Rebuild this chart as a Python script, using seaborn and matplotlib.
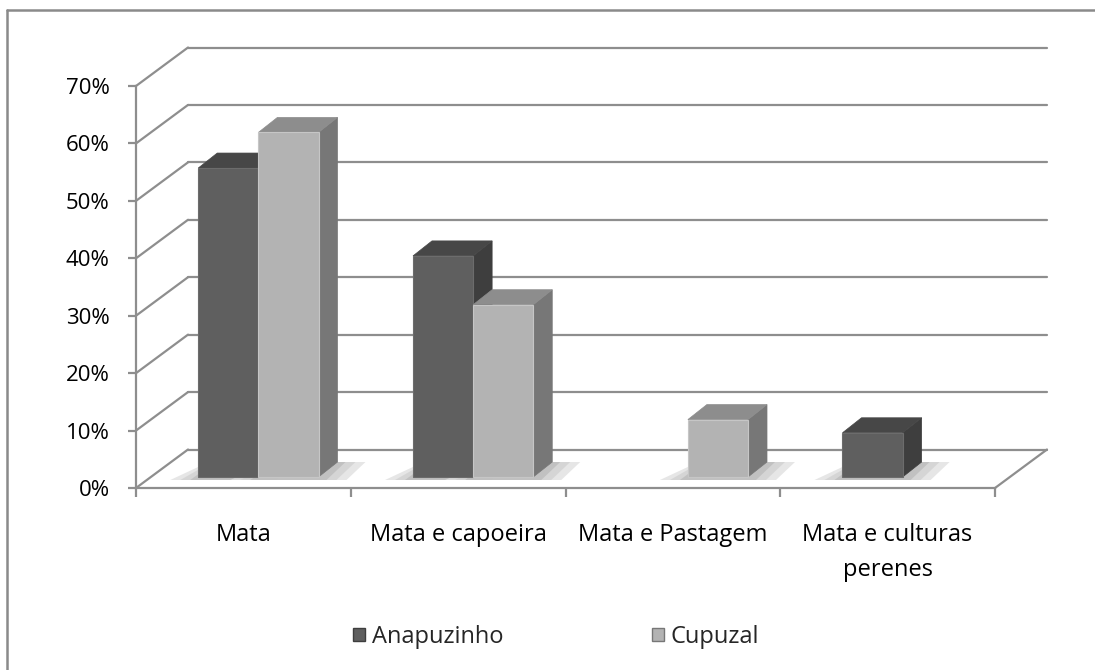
import numpy as np
import pandas as pd
import matplotlib
matplotlib.use('Agg')
import matplotlib.pyplot as plt
from matplotlib.patches import Polygon, Patch
from matplotlib.lines import Line2D
import seaborn as sns

# dados (percentual de propriedades)
categorias = ['Mata', 'Mata e capoeira', 'Mata e Pastagem', 'Mata e culturas\nperenes']
anapuzinho = [53.8, 38.5, 0.0, 7.7]
cupuzal = [60.0, 30.0, 10.0, 0.0]
series = ['Anapuzinho', 'Cupuzal']
yticks = [0, 10, 20, 30, 40, 50, 60, 70]

df = pd.DataFrame({
    'categoria': categorias * 2,
    'serie': [series[0]] * len(categorias) + [series[1]] * len(categorias),
    'valor': anapuzinho + cupuzal,
})

# cores: frente, topo, lateral, contorno
cores = {
    'Anapuzinho': ('#5f5f5f', '#474747', '#3e3e3e', '#6c6c6c'),
    'Cupuzal': ('#b3b3b3', '#8d8d8d', '#777777', '#c6c6c6'),
}
grid_cor = '#8e8e8e'

# deslocamentos da perspectiva (pixels)
WALL = (52, 38.5)   # parede do fundo
BAR = (15, 11)      # face frontal das barras
DEPTH = (19, 15)    # profundidade das barras

sns.set_style('white')
plt.rcParams['font.family'] = ['Open Sans', 'DejaVu Sans']

fig = plt.figure(figsize=(10.95, 6.7), dpi=100)
ax = fig.add_axes([136 / 1095, 182 / 670, 859 / 1095, 402 / 670])

sns.barplot(data=df, x='categoria', y='valor', hue='serie',
            palette=[cores[s][0] for s in series], saturation=1,
            width=0.56, legend=False, ax=ax, zorder=5)

ax.set_xlim(-0.5, len(categorias) - 0.5)
ax.set_ylim(0, 70)


def off(x, y, dx, dy):
    px, py = ax.transData.transform((x, y))
    return ax.transData.inverted().transform((px + dx, py + dy))


# parede do fundo e lateral esquerda
x0, x1 = ax.get_xlim()
for v in yticks:
    a = off(x0, v, *WALL)
    b = off(x1, v, *WALL)
    ax.plot([a[0], b[0]], [a[1], b[1]], color=grid_cor, lw=1.6, clip_on=False, zorder=1)
    ax.plot([x0, a[0]], [v, a[1]], color=grid_cor, lw=1.6, clip_on=False, zorder=1)
c = off(x1, 0, *WALL)
ax.plot([x1, c[0]], [0, c[1]], color=grid_cor, lw=1.6, clip_on=False, zorder=1)

# barras 3D
bars = sorted(ax.patches, key=lambda p: p.get_x())
z = 5
for p in bars:
    h = p.get_height()
    if h <= 0:
        p.set_visible(False)
        continue
    fc = matplotlib.colors.to_hex(p.get_facecolor())
    s = 'Anapuzinho' if fc == cores['Anapuzinho'][0] else 'Cupuzal'
    front, top, side, edge = cores[s]
    xa, w = p.get_x(), p.get_width()
    xb = xa + w
    bdx, bdy = BAR
    fdx, fdy = BAR[0] + DEPTH[0], BAR[1] + DEPTH[1]
    # sombra no piso (camadas para suavizar)
    for grow, cor, alpha in [(28, '#e0e0e0', 0.8), (18, '#cfcfcf', 0.7), (8, '#b9b9b9', 0.7)]:
        sh = [off(xa, 0, bdx - grow, bdy - 3), off(xb, 0, bdx + grow, bdy - 3),
              off(xb, 0, fdx + grow, fdy), off(xa, 0, fdx - grow * 0.3, fdy)]
        ax.add_patch(Polygon(sh, closed=True, facecolor=cor, edgecolor='none',
                             alpha=alpha, zorder=2, clip_on=False))
    lado = [off(xb, 0, bdx, bdy), off(xb, h, bdx, bdy),
            off(xb, h, fdx, fdy), off(xb, 0, fdx, fdy)]
    topo = [off(xa, h, bdx, bdy), off(xb, h, bdx, bdy),
            off(xb, h, fdx, fdy), off(xa, h, fdx, fdy)]
    ax.add_patch(Polygon(lado, closed=True, facecolor=side, edgecolor=side,
                         lw=0.5, zorder=z, clip_on=False))
    ax.add_patch(Polygon(topo, closed=True, facecolor=top, edgecolor=top,
                         lw=0.5, zorder=z, clip_on=False))
    nx, ny = off(xa, 0, bdx, bdy)
    p.set_xy((nx, ny))
    p.set_edgecolor(edge)
    p.set_linewidth(0.8)
    p.set_zorder(z + 0.5)
    p.set_clip_on(False)
    z += 1

# eixos
sns.despine(ax=ax, top=True, right=True)
for sp in ['left', 'bottom']:
    ax.spines[sp].set_color(grid_cor)
    ax.spines[sp].set_linewidth(1.6)
    ax.spines[sp].set_zorder(1)

ax.set_yticks(yticks)
ax.set_yticklabels([f'{v}%' for v in yticks])
ax.tick_params(axis='y', length=6, width=1.6, color=grid_cor, pad=13,
               labelsize=16, labelcolor='black', direction='out', left=True)
ax.set_xticks(np.arange(-0.5, len(categorias)), labels=[''] * (len(categorias) + 1))
ax.tick_params(axis='x', which='major', length=6.5, width=1.6, color=grid_cor,
               direction='out', bottom=True)
ax.set_xticks(np.arange(len(categorias)), minor=True)
ax.set_xticklabels(categorias, minor=True, fontsize=17, linespacing=1.6)
ax.tick_params(axis='x', which='minor', length=0, pad=25, labelcolor='black')
ax.set_xlabel('')
ax.set_ylabel('')
ax.grid(False)

# legenda
handles = [Patch(facecolor=cores[s][0], edgecolor=cores[s][2], label=s) for s in series]
fig.legend(handles=handles, loc='center', bbox_to_anchor=(556 / 1095, 33 / 670),
           ncol=2, frameon=False, fontsize=17, handlelength=0.5, handleheight=0.5,
           handletextpad=0.3, columnspacing=6.3)

# borda
fig.add_artist(Line2D([7 / 1095, 1], [1 - 9.5 / 670, 1 - 9.5 / 670],
                      transform=fig.transFigure, color='#8a8a8a', lw=1.8))
fig.add_artist(Line2D([7 / 1095, 7 / 1095], [0, 1 - 9.5 / 670],
                      transform=fig.transFigure, color='#8a8a8a', lw=1.8))

fig.savefig('out.png', dpi=100, facecolor='white')
